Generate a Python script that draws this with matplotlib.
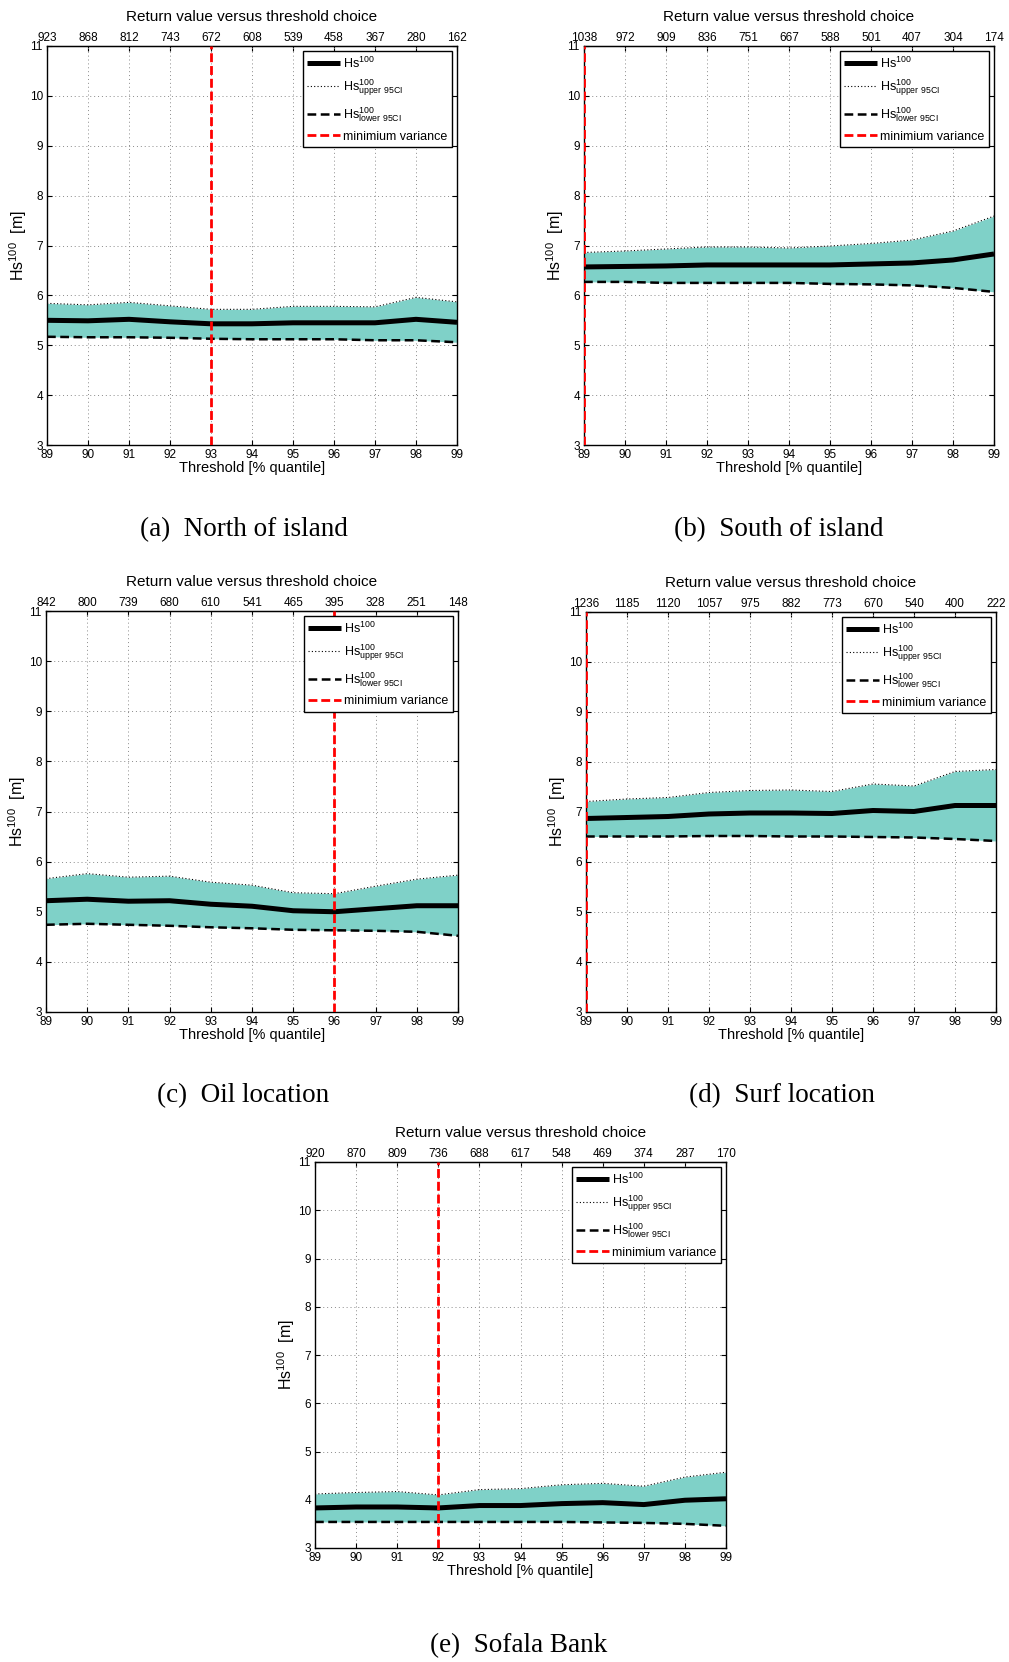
import matplotlib
matplotlib.use("Agg")
import matplotlib.pyplot as plt

plt.rcParams["font.family"] = ["Liberation Sans", "DejaVu Sans"]
plt.rcParams["mathtext.default"] = "regular"

# Threshold quantiles (%) shared by every site
thresholds = [89, 90, 91, 92, 93, 94, 95, 96, 97, 98, 99]

# Number of exceedances above each threshold (top axis)
counts_north = [923, 868, 812, 743, 672, 608, 539, 458, 367, 280, 162]
counts_south = [1038, 972, 909, 836, 751, 667, 588, 501, 407, 304, 174]
counts_oil = [842, 800, 739, 680, 610, 541, 465, 395, 328, 251, 148]
counts_surf = [1236, 1185, 1120, 1057, 975, 882, 773, 670, 540, 400, 222]
counts_sofala = [920, 870, 809, 736, 688, 617, 548, 469, 374, 287, 170]

# 100-year significant wave height estimate and 95% confidence bounds [m]
hs_north = [5.50, 5.49, 5.52, 5.47, 5.43, 5.43, 5.45, 5.45, 5.45, 5.52, 5.46]
up_north = [5.84, 5.81, 5.86, 5.79, 5.72, 5.72, 5.78, 5.78, 5.77, 5.96, 5.87]
lo_north = [5.17, 5.16, 5.16, 5.15, 5.13, 5.12, 5.12, 5.12, 5.10, 5.10, 5.06]

hs_south = [6.57, 6.58, 6.59, 6.61, 6.61, 6.61, 6.61, 6.63, 6.65, 6.71, 6.83]
up_south = [6.86, 6.89, 6.93, 6.97, 6.97, 6.95, 6.99, 7.04, 7.11, 7.29, 7.59]
lo_south = [6.27, 6.27, 6.25, 6.25, 6.25, 6.25, 6.23, 6.22, 6.20, 6.15, 6.07]

hs_oil = [5.22, 5.25, 5.21, 5.22, 5.15, 5.11, 5.02, 5.00, 5.06, 5.12, 5.12]
up_oil = [5.66, 5.76, 5.69, 5.71, 5.59, 5.53, 5.38, 5.36, 5.51, 5.65, 5.73]
lo_oil = [4.74, 4.76, 4.74, 4.72, 4.69, 4.67, 4.64, 4.63, 4.62, 4.60, 4.52]

hs_surf = [6.87, 6.89, 6.91, 6.96, 6.98, 6.98, 6.97, 7.03, 7.01, 7.13, 7.13]
up_surf = [7.21, 7.26, 7.29, 7.39, 7.43, 7.44, 7.41, 7.56, 7.52, 7.81, 7.85]
lo_surf = [6.51, 6.51, 6.51, 6.52, 6.52, 6.51, 6.51, 6.50, 6.49, 6.46, 6.42]

hs_sofala = [3.83, 3.85, 3.85, 3.83, 3.88, 3.88, 3.92, 3.94, 3.90, 3.99, 4.02]
up_sofala = [4.12, 4.15, 4.17, 4.10, 4.21, 4.23, 4.31, 4.34, 4.28, 4.47, 4.57]
lo_sofala = [3.54, 3.54, 3.54, 3.54, 3.54, 3.54, 3.54, 3.53, 3.52, 3.50, 3.46]

# Threshold giving the minimum variance at each site
minvar = {"north": 93, "south": 89, "oil": 96, "surf": 89, "sofala": 92}

captions = ["(a)  North of island", "(b)  South of island", "(c)  Oil location",
            "(d)  Surf location", "(e)  Sofala Bank"]

FILL = "#7fd1c8"
W, H = 1009, 1662
fig = plt.figure(figsize=(W / 100, H / 100), dpi=100)


def px_axes(x0, y0, x1, y1):
    return fig.add_axes([x0 / W, 1 - y1 / H, (x1 - x0) / W, (y1 - y0) / H])


def panel(ax, counts, hs, up, lo, mv):
    ax.set_axisbelow(True)
    ax.fill_between(thresholds, lo, up, color=FILL, lw=0, zorder=1)
    h_up, = ax.plot(thresholds, up, color="black", lw=0.8, ls=(0, (1, 2)), zorder=2)
    h_lo, = ax.plot(thresholds, lo, color="black", lw=1.8, ls=(0, (3.5, 1.8)), zorder=3)
    h_hs, = ax.plot(thresholds, hs, color="black", lw=3.6, zorder=4, solid_capstyle="butt")
    h_mv = ax.axvline(mv, color="#ff0000", lw=2.0, ls=(0, (3.2, 1.4)), zorder=5)

    ax.set_xlim(89, 99)
    ax.set_ylim(3, 11)
    ax.set_xticks(thresholds)
    ax.set_yticks(range(3, 12))
    ax.grid(True, color="#8a8a8a", lw=0.7, ls=(0, (1, 3)))
    ax.tick_params(axis="both", direction="in", length=3.5, width=0.8,
                   labelsize=8.5, top=False, right=True, pad=3)
    for s in ax.spines.values():
        s.set_linewidth(1.0)

    sec = ax.secondary_xaxis("top")
    sec.set_xticks(thresholds, labels=[str(c) for c in counts])
    sec.tick_params(direction="in", length=3.5, width=0.8, labelsize=8.5, pad=1.5)

    ax.set_xlabel("Threshold [% quantile]", fontsize=10.5, va="center")
    ax.set_ylabel("Hs$^{100}$  [m]", fontsize=11.5, va="center")
    ax.text(0.5, 1 + 29 / ax.bbox.height, "Return value versus threshold choice",
            transform=ax.transAxes, ha="center", va="center", fontsize=11)

    leg = ax.legend([h_hs, h_up, h_lo, h_mv],
                    ["Hs$^{100}$", "Hs$^{100}_{upper\\ 95CI}$",
                     "Hs$^{100}_{lower\\ 95CI}$", "minimium variance"],
                    loc="upper right", fontsize=9, handlelength=2.6,
                    handletextpad=0.3, borderpad=0.35, labelspacing=0.55,
                    borderaxespad=0.4, fancybox=False, framealpha=1,
                    edgecolor="black")
    leg.get_frame().set_linewidth(1.0)
    return ax


boxes = [(47, 46, 457, 445), (584, 46, 994, 445), (46, 611, 458, 1012),
         (586, 612, 996, 1012), (315, 1162, 726, 1548)]
datasets = [
    (counts_north, hs_north, up_north, lo_north, minvar["north"]),
    (counts_south, hs_south, up_south, lo_south, minvar["south"]),
    (counts_oil, hs_oil, up_oil, lo_oil, minvar["oil"]),
    (counts_surf, hs_surf, up_surf, lo_surf, minvar["surf"]),
    (counts_sofala, hs_sofala, up_sofala, lo_sofala, minvar["sofala"]),
]

for box, data in zip(boxes, datasets):
    ax = px_axes(*box)
    panel(ax, *data)
    hgt = box[3] - box[1]
    wid = box[2] - box[0]
    ax.xaxis.set_label_coords(0.5, -23 / hgt)
    ax.yaxis.set_label_coords(-29 / wid, 0.5)

caption_pos = [(244, 530), (779, 530), (243, 1096), (782, 1096), (519, 1646)]
for (cx, cy), txt in zip(caption_pos, captions):
    fig.text(cx / W, 1 - cy / H, txt, ha="center", va="center",
             fontsize=19.5, family=["Liberation Serif", "DejaVu Serif"])

fig.savefig("out.png", dpi=100)
